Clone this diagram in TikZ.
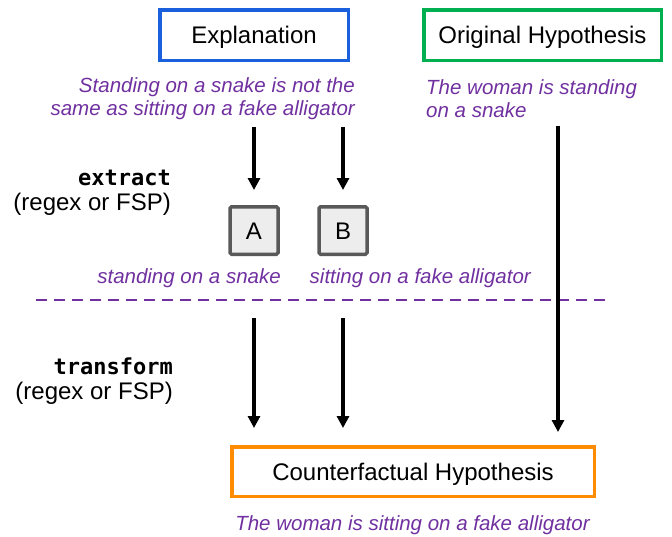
\documentclass[tikz,border=0pt]{standalone}
\usepackage{fontspec}
\setmainfont{Liberation Sans}
\setmonofont{DejaVu Sans Mono}
\usetikzlibrary{arrows.meta,positioning}
\definecolor{exblue}{HTML}{1A5FDC}
\definecolor{exgreen}{HTML}{00B050}
\definecolor{exorange}{HTML}{FF8C00}
\definecolor{expurple}{HTML}{7030A0}
\definecolor{exgray}{HTML}{595959}
\newcommand{\bigtxt}{\fontsize{24}{25.5}\selectfont}
\newcommand{\smalltxt}{\fontsize{20.5}{23}\selectfont}

\begin{document}
\begin{tikzpicture}[
    x=1pt, y=1pt,
    >={Triangle[width=12pt,length=12pt]},
    bigbox/.style={draw, line width=3.5pt, minimum height=50.5pt, inner sep=0pt, text height=17.2pt, text depth=0pt, font=\bigtxt},
    letterbox/.style={draw=exgray, fill=black!7, line width=3.5pt, rounded corners=1.5pt, minimum width=48pt, minimum height=47.5pt, inner sep=0pt, text height=17.2pt, text depth=0pt, font=\bigtxt},
    note/.style={font=\smalltxt\itshape, text=expurple, inner sep=0pt},
    steplabel/.style={align=right, inner sep=0pt, font=\bigtxt},
    arr/.style={->, line width=3.2pt},
]
\useasboundingbox (0,0) rectangle (672,-536);

% Boxes
\node[bigbox, draw=exblue, minimum width=188.5pt] (expl) at (254,-35) {Explanation};
\node[bigbox, draw=exgreen, minimum width=237.5pt] (orig) at (542.5,-35) {Original Hypothesis};
\node[letterbox] (A) at (254,-230.5) {A};
\node[letterbox] (B) at (343,-230.5) {B};
\node[bigbox, draw=exorange, minimum width=362.5pt, minimum height=49.5pt] (cf) at (413,-471.5) {Counterfactual Hypothesis};

% Texts
\node[note, align=right, anchor=east] (etext) at (355,-98.5) {Standing on a snake is not the\\same as sitting on a fake alligator};
\node[note, align=left, anchor=west] (otext) at (426,-98.5) {The woman is standing\\on a snake};
\node[note, anchor=east] (atext) at (281,-278) {standing on a snake};
\node[note, anchor=west] (btext) at (309.5,-278) {sitting on a fake alligator};
\node[note] (cftext) at (412.5,-525) {The woman is sitting on a fake alligator};

% Step labels
\node[steplabel, anchor=east] (extract) at (171,-193) {{\fontsize{22}{25}\selectfont\ttfamily\bfseries extract}\\(regex or FSP)};
\node[steplabel, anchor=east] (transform) at (173,-381) {{\fontsize{22}{25}\selectfont\ttfamily\bfseries transform}\\(regex or FSP)};

% Divider
\coordinate (dl) at (36,-300);
\coordinate (dr) at (609,-300);
\draw[expurple, line width=2.5pt, dash pattern=on 11pt off 7pt] (dl) -- (dr);

% Arrows
\draw[arr, shorten <=7pt, shorten >=15pt] (A |- etext.south) -- (A.north);
\draw[arr, shorten <=7pt, shorten >=15pt] (B |- etext.south) -- (B.north);
\draw[arr, shorten <=18pt, shorten >=17pt] (A |- dl) -- (A |- cf.north);
\draw[arr, shorten <=18pt, shorten >=17pt] (B |- dl) -- (B |- cf.north);
\draw[arr, shorten <=8pt, shorten >=13pt] ([xshift=132pt]otext.south west) -- ([xshift=132pt]otext.south west |- cf.north);
\end{tikzpicture}
\end{document}
